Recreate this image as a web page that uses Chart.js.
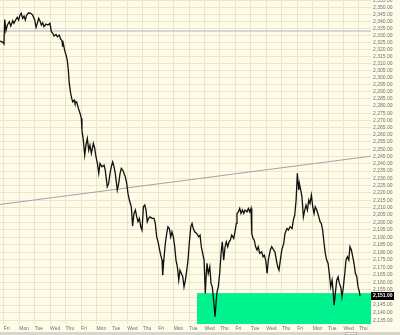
<!DOCTYPE html>
<html>
<head>
<meta charset="utf-8">
<script src="https://cdn.jsdelivr.net/npm/chart.js@4.4.1/dist/chart.umd.min.js"></script>
<style>
  html, body { margin: 0; padding: 0; background: #fefbe8; }
  #wrap { position: relative; width: 400px; height: 335px; overflow: hidden; }
  canvas { display: block; }
  .scrollbar { position: absolute; left: 0; top: 332px; width: 400px; height: 3px; background: #d9d6cc; }
  .thumb { position: absolute; left: 345px; top: 0; width: 12px; height: 3px; background: #fff; border: 1px solid #b4b1a8; box-sizing: border-box; }
</style>
</head>
<body>
<div id="wrap">
  <canvas id="chart" width="400" height="332"></canvas>
  <div class="scrollbar"><div class="thumb"></div></div>
</div>
<script>
// one label per trading session, day 0 starts at the first vertical grid line
const dayLabels = ["Fri", "Mon", "Tue", "Wed", "Thu", "Fri", "Mon", "Tue", "Wed", "Thu", "Fri", "Mon",
  "Tue", "Wed", "Thu", "Fri", "Tue", "Wed", "Thu", "Fri", "Mon", "Tue", "Wed", "Thu"];

// intraday price path, x in sessions (fractional), y in index points
const priceDays = [
  -0.25, -0.08, 0.01, 0.06, 0.14, 0.23, 0.36, 0.45, 0.58, 0.66,
  0.79, 0.87, 0.96, 1.05, 1.13, 1.22, 1.31, 1.39, 1.48, 1.61,
  1.74, 1.87, 2.00, 2.09, 2.17, 2.26, 2.34, 2.43, 2.52, 2.60,
  2.73, 2.86, 2.99, 3.08, 3.17, 3.25, 3.38, 3.47, 3.59, 3.69,
  3.77, 3.81, 3.85, 3.94, 4.03, 4.11, 4.18, 4.24, 4.33, 4.40,
  4.46, 4.55, 4.61, 4.72, 4.83, 4.94, 5.02, 5.06, 5.15, 5.24,
  5.32, 5.41, 5.50, 5.58, 5.67, 5.80, 5.89, 5.97, 6.06, 6.15,
  6.23, 6.36, 6.49, 6.57, 6.70, 6.79, 6.88, 6.96, 7.05, 7.14,
  7.22, 7.35, 7.44, 7.53, 7.61, 7.70, 7.78, 7.87, 7.96, 8.04,
  8.13, 8.26, 8.34, 8.43, 8.52, 8.61, 8.69, 8.78, 8.87, 8.95,
  9.04, 9.13, 9.21, 9.29, 9.38, 9.47, 9.60, 9.73, 9.81, 9.90,
  9.99, 10.07, 10.16, 10.25, 10.29, 10.38, 10.46, 10.55, 10.63, 10.72,
  10.81, 10.89, 10.98, 11.07, 11.15, 11.24, 11.33, 11.41, 11.50, 11.59,
  11.67, 11.76, 11.85, 11.93, 12.01, 12.11, 12.19, 12.27, 12.36, 12.49,
  12.62, 12.71, 12.79, 12.88, 12.97, 13.05, 13.10, 13.16, 13.24, 13.34,
  13.42, 13.50, 13.59, 13.68, 13.76, 13.81, 13.89, 13.98, 14.07, 14.15,
  14.24, 14.33, 14.41, 14.50, 14.59, 14.67, 14.76, 14.89, 14.97, 15.06,
  15.10, 15.19, 15.28, 15.36, 15.45, 15.54, 15.62, 15.75, 15.84, 15.93,
  16.01, 16.06, 16.14, 16.22, 16.31, 16.40, 16.48, 16.57, 16.70, 16.79,
  16.87, 16.96, 17.05, 17.13, 17.26, 17.35, 17.48, 17.56, 17.65, 17.74,
  17.82, 17.91, 18.00, 18.13, 18.21, 18.34, 18.43, 18.54, 18.67, 18.75,
  18.84, 18.93, 19.01, 19.10, 19.14, 19.23, 19.31, 19.40, 19.49, 19.57,
  19.66, 19.75, 19.83, 19.92, 20.01, 20.09, 20.17, 20.27, 20.40, 20.48,
  20.56, 20.65, 20.74, 20.82, 20.91, 21.00, 21.08, 21.17, 21.26, 21.34,
  21.39, 21.47, 21.56, 21.65, 21.73, 21.82, 21.90, 21.99, 22.08, 22.16,
  22.25, 22.34, 22.42, 22.51, 22.60, 22.68, 22.77, 22.86, 22.94, 23.03,
  23.07
];
const priceValues = [
  2325.9, 2325.1, 2323.7, 2341.2, 2333.2, 2337.3, 2339.6, 2336.6, 2340.4, 2338.5,
  2341.4, 2342.8, 2340.9, 2344.5, 2345.7, 2342.1, 2343.7, 2340.9, 2344.5, 2346.1,
  2345.7, 2344.5, 2340.9, 2335.6, 2338.5, 2342.1, 2340.4, 2337.3, 2338.9, 2336.1,
  2338.0, 2337.3, 2338.5, 2332.5, 2331.4, 2329.4, 2330.6, 2328.9, 2330.1, 2327.1,
  2326.1, 2321.8, 2324.2, 2319.4, 2315.9, 2312.3, 2305.2, 2295.8, 2288.8, 2285.3,
  2282.9, 2284.1, 2281.8, 2282.9, 2278.3, 2274.8, 2271.3, 2263.2, 2256.3, 2245.9,
  2252.8, 2257.4, 2249.4, 2252.8, 2247.1, 2254.0, 2250.5, 2244.8, 2240.2, 2233.4,
  2240.2, 2237.9, 2239.0, 2235.6, 2224.2, 2226.5, 2233.4, 2237.9, 2241.3, 2237.9,
  2233.4, 2222.0, 2226.5, 2233.4, 2236.8, 2235.6, 2233.4, 2231.0, 2226.5, 2219.7,
  2215.2, 2210.4, 2197.6, 2206.1, 2208.4, 2203.8, 2200.5, 2202.8, 2197.1, 2194.9,
  2210.6, 2211.8, 2208.4, 2200.5, 2202.8, 2203.8, 2202.8, 2202.8, 2199.4, 2190.3,
  2187.0, 2182.6, 2178.1, 2174.8, 2164.8, 2177.0, 2185.9, 2192.6, 2197.1, 2196.0,
  2190.3, 2193.7, 2190.3, 2183.7, 2174.8, 2170.3, 2161.5, 2168.1, 2165.9, 2163.7,
  2157.0, 2161.5, 2168.1, 2174.8, 2185.9, 2197.1, 2199.4, 2196.0, 2193.7, 2192.6,
  2190.3, 2191.5, 2183.7, 2179.3, 2174.8, 2152.7, 2163.7, 2172.6, 2165.9, 2170.3,
  2159.3, 2157.0, 2148.3, 2137.3, 2148.3, 2153.7, 2157.0, 2165.9, 2179.3, 2187.0,
  2174.8, 2183.7, 2187.0, 2183.7, 2187.0, 2188.1, 2191.5, 2189.3, 2193.7, 2199.4,
  2206.1, 2207.2, 2209.5, 2206.1, 2208.4, 2206.1, 2208.4, 2207.2, 2209.5, 2207.2,
  2209.5, 2192.6, 2189.3, 2188.1, 2183.7, 2181.5, 2183.7, 2179.3, 2180.3, 2177.0,
  2178.1, 2174.8, 2165.9, 2174.8, 2181.5, 2183.7, 2181.5, 2180.3, 2174.8, 2170.3,
  2168.1, 2174.8, 2181.5, 2185.9, 2192.6, 2196.0, 2194.9, 2197.1, 2196.0, 2201.6,
  2205.0, 2215.2, 2233.4, 2222.0, 2226.5, 2222.0, 2217.4, 2203.8, 2208.4, 2211.8,
  2208.4, 2215.2, 2212.9, 2218.6, 2210.6, 2206.1, 2210.6, 2208.4, 2203.8, 2200.5,
  2199.4, 2194.9, 2185.9, 2179.3, 2174.8, 2172.6, 2165.9, 2157.0, 2161.5, 2152.7,
  2145.0, 2152.7, 2161.5, 2163.7, 2159.3, 2157.0, 2150.5, 2157.0, 2165.9, 2174.8,
  2177.0, 2174.8, 2183.7, 2181.5, 2177.0, 2172.6, 2165.9, 2163.7, 2157.0, 2153.7,
  2151.0
];

// right axis: a label every 5 points
const priceTicks = [];
for (let p = 2135; p <= 2355; p += 5) priceTicks.push(p);

const dayMin = -0.246;
const dayMax = 23.78;
const priceMin = 2132.6;
const priceMax = 2355.3;

const resistanceLevel = 2333.0;
const trendStartValue = 2212.2;
const trendEndValue = 2245.2;
const zoneStartDay = 12.51;
const zoneTop = 2152.5;
const lastPrice = 2151.0;

const GRID = "#ebe5c9";
const TEXT = "#707070";
const FONT = { family: "'Liberation Sans', Arial, sans-serif", size: 5 };

const fmt = (v) => v.toLocaleString("en-US", { minimumFractionDigits: 2, maximumFractionDigits: 2 });

const noPadding = (s) => {
  s.paddingTop = 0;
  s.paddingBottom = 0;
  s.paddingLeft = 0;
  s.paddingRight = 0;
};

const lastPriceTag = {
  id: "lastPriceTag",
  afterDraw(chart) {
    const { ctx, chartArea, scales } = chart;
    const y = scales.y.getPixelForValue(lastPrice);
    ctx.save();
    ctx.fillStyle = "#000";
    ctx.fillRect(chartArea.right, Math.round(y) - 4, 23, 8);
    ctx.fillStyle = "#fff";
    ctx.font = "bold 5px 'Liberation Sans', Arial, sans-serif";
    ctx.textBaseline = "middle";
    ctx.fillText(fmt(lastPrice), chartArea.right + 2, Math.round(y));
    ctx.restore();
  }
};

new Chart(document.getElementById("chart"), {
  type: "line",
  data: {
    datasets: [
      {
        label: "price",
        data: priceDays.map((d, i) => ({ x: d, y: priceValues[i] })),
        borderColor: "#111111",
        borderWidth: 1.3,
        pointRadius: 0,
        tension: 0
      },
      {
        label: "resistance",
        data: [{ x: dayMin, y: resistanceLevel }, { x: dayMax, y: resistanceLevel }],
        borderColor: "#a9b5c5",
        borderWidth: 1,
        pointRadius: 0
      },
      {
        label: "trend",
        data: [{ x: dayMin, y: trendStartValue }, { x: dayMax, y: trendEndValue }],
        borderColor: "#a2a2aa",
        borderWidth: 1,
        pointRadius: 0
      },
      {
        label: "zone",
        data: [{ x: zoneStartDay, y: zoneTop }, { x: dayMax, y: zoneTop }],
        borderColor: "#00f28e",
        backgroundColor: "#00f28e",
        borderWidth: 1,
        pointRadius: 0,
        fill: "start"
      }
    ]
  },
  options: {
    responsive: false,
    animation: false,
    layout: { padding: 0 },
    plugins: {
      legend: { display: false },
      tooltip: { enabled: false }
    },
    scales: {
      x: {
        type: "linear",
        min: dayMin,
        max: dayMax,
        bounds: "data",
        afterBuildTicks: (s) => { s.ticks = dayLabels.map((_, i) => ({ value: i })); },
        afterFit: (s) => { s.height = 8; noPadding(s); },
        grid: { color: GRID, drawTicks: false },
        border: { display: false },
        ticks: {
          autoSkip: false,
          maxRotation: 0,
          align: "start",
          padding: 2,
          color: TEXT,
          font: FONT,
          callback: (v) => dayLabels[v]
        }
      },
      y: {
        type: "logarithmic",
        position: "right",
        min: priceMin,
        max: priceMax,
        bounds: "data",
        afterBuildTicks: (s) => { s.ticks = priceTicks.map((v) => ({ value: v })); },
        afterFit: (s) => { s.width = 29; noPadding(s); },
        grid: { color: GRID, drawTicks: false },
        border: { display: false },
        ticks: {
          autoSkip: false,
          padding: 2,
          color: TEXT,
          font: FONT,
          callback: (v) => fmt(v)
        }
      }
    }
  },
  plugins: [lastPriceTag]
});
</script>
</body>
</html>
